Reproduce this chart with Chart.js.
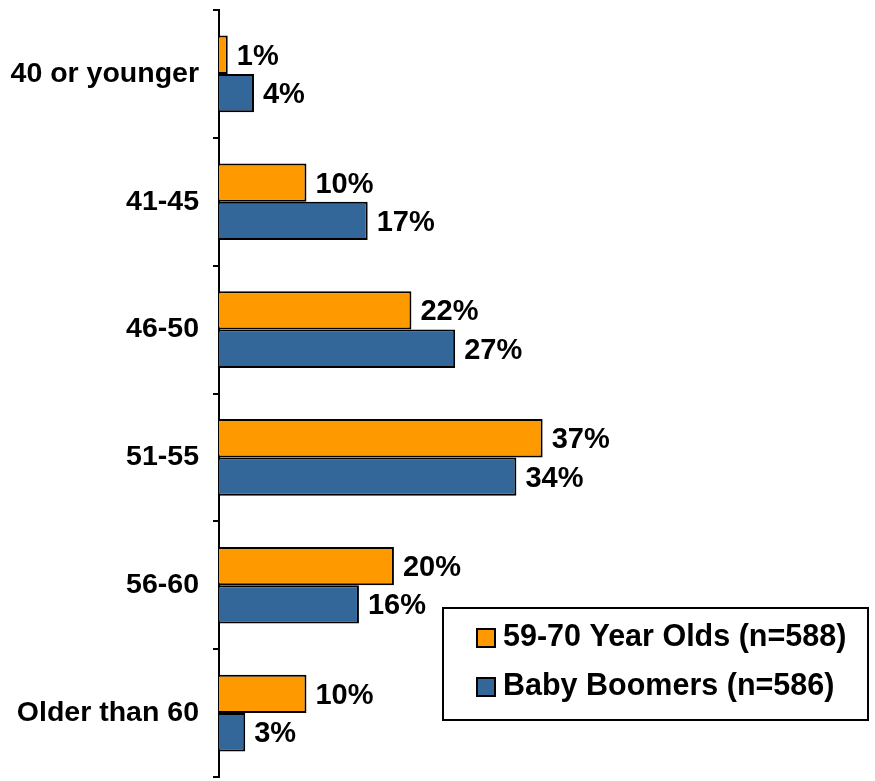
<!DOCTYPE html>
<html>
<head>
<meta charset="utf-8">
<script src="https://cdn.jsdelivr.net/npm/chart.js@4"></script>
<style>
html,body{margin:0;padding:0;background:#fff;}
#wrap{width:875px;height:781px;position:relative;}
</style>
</head>
<body>
<div id="wrap"><canvas id="c"></canvas></div>
<script>
const categories = ["40 or younger", "41-45", "46-50", "51-55", "56-60", "Older than 60"];
const series1Name = "59-70 Year Olds (n=588)";
const series1 = [1, 10, 22, 37, 20, 10];
const series2Name = "Baby Boomers (n=586)";
const series2 = [4, 17, 27, 34, 16, 3];

const FONT = '"Liberation Sans", Arial, sans-serif';

const valueLabels = {
  id: 'valueLabels',
  afterDatasetsDraw(chart) {
    const ctx = chart.ctx;
    ctx.save();
    ctx.font = 'bold 29px ' + FONT;
    ctx.fillStyle = '#000';
    ctx.textAlign = 'left';
    ctx.textBaseline = 'middle';
    chart.data.datasets.forEach((ds, i) => {
      const meta = chart.getDatasetMeta(i);
      meta.data.forEach((el, j) => {
        ctx.fillText(ds.data[j] + '%', el.x + 9, el.y + 2);
      });
    });
    ctx.restore();
  }
};

const boxLegend = {
  id: 'boxLegend',
  afterDraw(chart) {
    const ctx = chart.ctx;
    ctx.save();
    ctx.fillStyle = '#fff';
    ctx.fillRect(443, 608, 425, 112);
    ctx.strokeStyle = '#000';
    ctx.lineWidth = 2;
    ctx.strokeRect(443, 608, 425, 112);
    const rows = [638, 687];
    ctx.font = 'bold 30.5px ' + FONT;
    ctx.textAlign = 'left';
    ctx.textBaseline = 'middle';
    chart.data.datasets.forEach((ds, i) => {
      const y = rows[i];
      ctx.fillStyle = ds.backgroundColor;
      ctx.fillRect(477, y - 9, 18, 18);
      ctx.lineWidth = 2;
      ctx.strokeStyle = '#000';
      ctx.strokeRect(477, y - 9, 18, 18);
      ctx.fillStyle = '#000';
      ctx.fillText(ds.label, 503, y);
    });
    ctx.restore();
  }
};

new Chart(document.getElementById('c'), {
  type: 'bar',
  data: {
    labels: categories,
    datasets: [
      { label: series1Name, data: series1, backgroundColor: '#FF9900', borderColor: '#000', borderWidth: 2, borderSkipped: 'left' },
      { label: series2Name, data: series2, backgroundColor: '#336699', borderColor: '#000', borderWidth: 2, borderSkipped: 'left' }
    ]
  },
  options: {
    indexAxis: 'y',
    responsive: true,
    maintainAspectRatio: false,
    animation: false,
    layout: { padding: { top: 10, bottom: 4, right: 0, left: 0 } },
    datasets: { bar: { categoryPercentage: 0.6, barPercentage: 1.0 } },
    plugins: { legend: { display: false }, tooltip: { enabled: false } },
    scales: {
      x: { display: false, min: 0, max: 75 },
      y: {
        position: 'left',
        grid: { drawOnChartArea: false, offset: true, tickLength: 6, color: '#000', lineWidth: 2 },
        border: { display: true, color: '#000', width: 2 },
        ticks: { color: '#000', font: { family: FONT, size: 28.5, weight: 'bold' }, padding: 14 },
        afterFit(scale) { scale.width = 219; scale.paddingTop = 0; scale.paddingBottom = 0; }
      }
    }
  },
  plugins: [valueLabels, boxLegend]
});
</script>
</body>
</html>
